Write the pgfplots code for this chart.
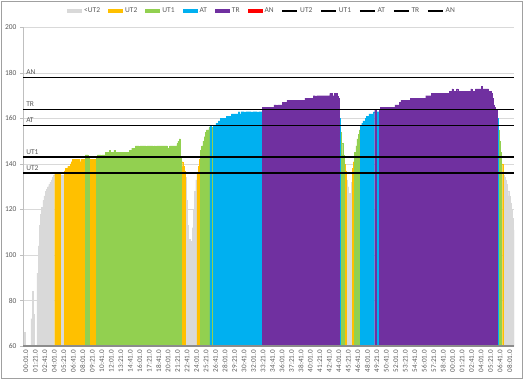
\documentclass[border=0pt]{standalone}
\usepackage{pgfplots}
\pgfplotsset{compat=1.18}
\usepackage{pgfplotstable}
\usepackage{fontspec}
\setmainfont{Carlito}
\definecolor{cGray}{HTML}{D9D9D9}
\definecolor{cYellow}{HTML}{FFC000}
\definecolor{cGreen}{HTML}{92D050}
\definecolor{cBlue}{HTML}{00B0F0}
\definecolor{cPurple}{HTML}{7030A0}
\definecolor{cRed}{HTML}{FF0000}
\definecolor{textgray}{HTML}{595959}
\definecolor{gridgray}{HTML}{D9D9D9}
\definecolor{ylinegray}{HTML}{BFBFBF}
\definecolor{axgray}{HTML}{8C8C8C}
\definecolor{framegray}{HTML}{A0A0A0}

\pgfplotstableread[row sep=\\]{
t hr\\
0 66\\ 10 55\\ 20 55\\ 30 55\\ 40 55\\ 50 55\\ 60 72\\ 70 84\\ 80 74\\ 90 55\\
100 55\\ 110 92\\ 120 104\\ 130 113\\ 140 118\\ 150 121\\ 160 124\\ 170 126\\ 180 128\\ 190 129\\
200 130\\ 210 131\\ 220 132\\ 230 133\\ 240 134\\ 250 135\\ 260 136\\ 270 135\\ 280 136\\ 290 136\\
300 136\\ 310 135\\ 320 134\\ 330 135\\ 340 137\\ 350 138\\ 360 138\\ 370 139\\ 380 139\\ 390 140\\
400 141\\ 410 142\\ 420 142\\ 430 142\\ 440 141\\ 450 142\\ 460 142\\ 470 141\\ 480 142\\ 490 141\\
500 142\\ 510 141\\ 520 144\\ 530 144\\ 540 143\\ 550 142\\ 560 142\\ 570 141\\ 580 142\\ 590 142\\
600 142\\ 610 143\\ 620 144\\ 630 144\\ 640 144\\ 650 143\\ 660 144\\ 670 144\\ 680 144\\ 690 145\\
700 145\\ 710 145\\ 720 146\\ 730 145\\ 740 145\\ 750 145\\ 760 146\\ 770 145\\ 780 145\\ 790 145\\
800 145\\ 810 145\\ 820 145\\ 830 144\\ 840 145\\ 850 145\\ 860 145\\ 870 145\\ 880 145\\ 890 146\\
900 146\\ 910 147\\ 920 147\\ 930 147\\ 940 148\\ 950 148\\ 960 148\\ 970 147\\ 980 148\\ 990 148\\
1000 148\\ 1010 148\\ 1020 148\\ 1030 147\\ 1040 148\\ 1050 148\\ 1060 148\\ 1070 148\\ 1080 148\\ 1090 146\\
1100 148\\ 1110 146\\ 1120 148\\ 1130 148\\ 1140 148\\ 1150 148\\ 1160 148\\ 1170 148\\ 1180 148\\ 1190 148\\
1200 148\\ 1210 146\\ 1220 147\\ 1230 148\\ 1240 148\\ 1250 148\\ 1260 148\\ 1270 148\\ 1280 148\\ 1290 149\\
1300 150\\ 1310 151\\ 1320 143\\ 1330 141\\ 1340 139\\ 1350 137\\ 1360 134\\ 1370 124\\ 1380 113\\ 1390 107\\
1400 104\\ 1410 106\\ 1420 112\\ 1430 120\\ 1440 128\\ 1450 133\\ 1460 136\\ 1470 139\\ 1480 142\\ 1490 146\\
1500 148\\ 1510 150\\ 1520 152\\ 1530 154\\ 1540 155\\ 1550 155\\ 1560 156\\ 1570 157\\ 1580 156\\ 1590 156\\
1600 157\\ 1610 157\\ 1620 158\\ 1630 158\\ 1640 159\\ 1650 159\\ 1660 160\\ 1670 160\\ 1680 160\\ 1690 160\\
1700 160\\ 1710 161\\ 1720 161\\ 1730 161\\ 1740 161\\ 1750 162\\ 1760 162\\ 1770 162\\ 1780 162\\ 1790 162\\
1800 162\\ 1810 163\\ 1820 162\\ 1830 163\\ 1840 163\\ 1850 163\\ 1860 162\\ 1870 163\\ 1880 163\\ 1890 163\\
1900 163\\ 1910 163\\ 1920 162\\ 1930 163\\ 1940 163\\ 1950 163\\ 1960 163\\ 1970 162\\ 1980 163\\ 1990 163\\
2000 163\\ 2010 165\\ 2020 165\\ 2030 165\\ 2040 165\\ 2050 163\\ 2060 165\\ 2070 165\\ 2080 165\\ 2090 165\\
2100 165\\ 2110 166\\ 2120 166\\ 2130 165\\ 2140 166\\ 2150 166\\ 2160 166\\ 2170 166\\ 2180 167\\ 2190 167\\
2200 167\\ 2210 167\\ 2220 168\\ 2230 168\\ 2240 168\\ 2250 168\\ 2260 168\\ 2270 168\\ 2280 168\\ 2290 168\\
2300 168\\ 2310 168\\ 2320 168\\ 2330 168\\ 2340 168\\ 2350 168\\ 2360 168\\ 2370 169\\ 2380 169\\ 2390 169\\
2400 169\\ 2410 169\\ 2420 169\\ 2430 169\\ 2440 170\\ 2450 170\\ 2460 169\\ 2470 170\\ 2480 170\\ 2490 170\\
2500 170\\ 2510 170\\ 2520 170\\ 2530 170\\ 2540 170\\ 2550 170\\ 2560 170\\ 2570 170\\ 2580 171\\ 2590 171\\
2600 170\\ 2610 170\\ 2620 171\\ 2630 171\\ 2640 170\\ 2650 169\\ 2660 160\\ 2670 154\\ 2680 149\\ 2690 144\\
2700 140\\ 2710 137\\ 2720 133\\ 2730 130\\ 2740 127\\ 2750 126\\ 2760 132\\ 2770 138\\ 2780 141\\ 2790 145\\
2800 148\\ 2810 151\\ 2820 153\\ 2830 155\\ 2840 157\\ 2850 158\\ 2860 159\\ 2870 159\\ 2880 160\\ 2890 161\\
2900 161\\ 2910 162\\ 2920 162\\ 2930 162\\ 2940 162\\ 2950 163\\ 2960 164\\ 2970 163\\ 2980 163\\ 2990 163\\
3000 164\\ 3010 165\\ 3020 165\\ 3030 165\\ 3040 165\\ 3050 165\\ 3060 165\\ 3070 165\\ 3080 165\\ 3090 165\\
3100 165\\ 3110 165\\ 3120 165\\ 3130 166\\ 3140 166\\ 3150 166\\ 3160 166\\ 3170 167\\ 3180 168\\ 3190 168\\
3200 168\\ 3210 168\\ 3220 168\\ 3230 168\\ 3240 168\\ 3250 168\\ 3260 169\\ 3270 169\\ 3280 169\\ 3290 169\\
3300 169\\ 3310 169\\ 3320 169\\ 3330 169\\ 3340 169\\ 3350 169\\ 3360 169\\ 3370 169\\ 3380 169\\ 3390 170\\
3400 170\\ 3410 170\\ 3420 170\\ 3430 170\\ 3440 171\\ 3450 171\\ 3460 171\\ 3470 171\\ 3480 171\\ 3490 171\\
3500 171\\ 3510 171\\ 3520 171\\ 3530 171\\ 3540 171\\ 3550 171\\ 3560 171\\ 3570 171\\ 3580 171\\ 3590 172\\
3600 172\\ 3610 173\\ 3620 172\\ 3630 172\\ 3640 172\\ 3650 173\\ 3660 172\\ 3670 172\\ 3680 172\\ 3690 172\\
3700 172\\ 3710 172\\ 3720 172\\ 3730 172\\ 3740 172\\ 3750 172\\ 3760 172\\ 3770 173\\ 3780 172\\ 3790 172\\
3800 172\\ 3810 173\\ 3820 173\\ 3830 173\\ 3840 173\\ 3850 173\\ 3860 174\\ 3870 173\\ 3880 173\\ 3890 173\\
3900 173\\ 3910 173\\ 3920 172\\ 3930 172\\ 3940 171\\ 3950 169\\ 3960 166\\ 3970 165\\ 3980 164\\ 3990 160\\
4000 155\\ 4010 150\\ 4020 145\\ 4030 140\\ 4040 135\\ 4050 134\\ 4060 133\\ 4070 131\\ 4080 128\\ 4090 126\\
4100 123\\ 4110 120\\ 4120 116\\ 4130 111\\
}\hrdata

\pgfplotsset{
  zonebar/.style={ybar, bar width=10, bar shift=0pt, fill=#1, draw=#1, line width=0.3pt,
    legend image code/.code={\fill[fill=#1, draw=none] (0bp,-2.3bp) rectangle (15bp,2.3bp);}},
  hline/.style={black, line width=1.5bp, sharp plot, mark=none,
    legend image code/.code={\draw[black, line width=1.5bp] (0bp,0bp) -- (15bp,0bp);}},
}
\tikzset{
  hlabel/.style={pos=0, anchor=south west, xshift=2bp, yshift=1.6bp, inner sep=0.5bp, text=textgray, font=\fontsize{7.5}{9}\selectfont},
}

\begin{document}
\begin{tikzpicture}[font=\fontsize{7.5}{9}\selectfont]
\begin{axis}[
  at={(0,0)}, anchor=south west, scale only axis,
  width=491bp, height=318.5bp,
  xmin=-12, xmax=4130, ymin=60, ymax=200,
  ytick={60,80,...,200},
  xtick={0,80,...,4080},
  xticklabels={00:01.0,01:21.0,02:41.0,04:01.0,05:21.0,06:41.0,08:01.0,09:21.0,10:41.0,12:01.0,13:21.0,14:41.0,16:01.0,17:21.0,18:41.0,20:01.0,21:21.0,22:41.0,24:01.0,25:21.0,26:41.0,28:01.0,29:21.0,30:41.0,32:01.0,33:21.0,34:41.0,36:01.0,37:21.0,38:41.0,40:01.0,41:21.0,42:41.0,44:01.0,45:21.0,46:41.0,48:01.0,49:21.0,50:41.0,52:01.0,53:21.0,54:41.0,56:01.0,57:21.0,58:41.0,00:01.0,01:21.0,02:41.0,04:01.0,05:21.0,06:41.0,08:01.0},
  x tick label style={rotate=90, anchor=east, font=\fontsize{7.2}{8}\selectfont, text=textgray, inner sep=1pt, yshift=-1.5bp},
  y tick label style={text=textgray, font=\fontsize{7.5}{9}\selectfont},
  ymajorgrids, grid style={color=gridgray, line width=0.6bp},
  axis x line*=bottom, axis y line*=left,
  x axis line style={draw=none},
  y axis line style={color=ylinegray, line width=0.6bp, -},
  xtick style={draw=none},
  ytick style={color=ylinegray, line width=0.6bp},
  tick align=outside, major tick length=3bp,
  /pgf/number format/assume math mode=true,
  legend columns=11,
  legend style={at={(0.4868,1.0518)}, anchor=center, draw=none, fill=none,
    font=\fontsize{7.5}{9}\selectfont, text=textgray,
    /tikz/every even column/.append style={column sep=6bp},
    inner sep=0pt},
  legend cell align=left,
]
\addplot[zonebar=cGray, restrict y to domain=0:135.5] table[x=t, y=hr] {\hrdata};
\addlegendentry{<UT2}
\addplot[zonebar=cYellow, restrict y to domain=135.5:142.5] table[x=t, y=hr] {\hrdata};
\addlegendentry{UT2}
\addplot[zonebar=cGreen, restrict y to domain=142.5:156.5] table[x=t, y=hr] {\hrdata};
\addlegendentry{UT1}
\addplot[zonebar=cBlue, restrict y to domain=156.5:163.5] table[x=t, y=hr] {\hrdata};
\addlegendentry{AT}
\addplot[zonebar=cPurple, restrict y to domain=163.5:177.5] table[x=t, y=hr] {\hrdata};
\addlegendentry{TR}
\addlegendimage{zonebar=cRed}
\addlegendentry{AN}
\addplot[hline] coordinates {(-12,136) (4130,136)} node[hlabel] {UT2};
\addlegendentry{UT2}
\addplot[hline] coordinates {(-12,143) (4130,143)} node[hlabel] {UT1};
\addlegendentry{UT1}
\addplot[hline] coordinates {(-12,157) (4130,157)} node[hlabel] {AT};
\addlegendentry{AT}
\addplot[hline] coordinates {(-12,164) (4130,164)} node[hlabel] {TR};
\addlegendentry{TR}
\addplot[hline] coordinates {(-12,178) (4130,178)} node[hlabel] {AN};
\addlegendentry{AN}
\draw[axgray, line width=1.4bp] (rel axis cs:0,0) -- (rel axis cs:1,0);
\end{axis}
\draw[framegray, line width=0.75bp] (-22bp,-32bp) rectangle (499bp,345bp);
\pgfresetboundingbox
\useasboundingbox (-23bp,-34bp) rectangle (501bp,346bp);
\end{tikzpicture}
\end{document}
